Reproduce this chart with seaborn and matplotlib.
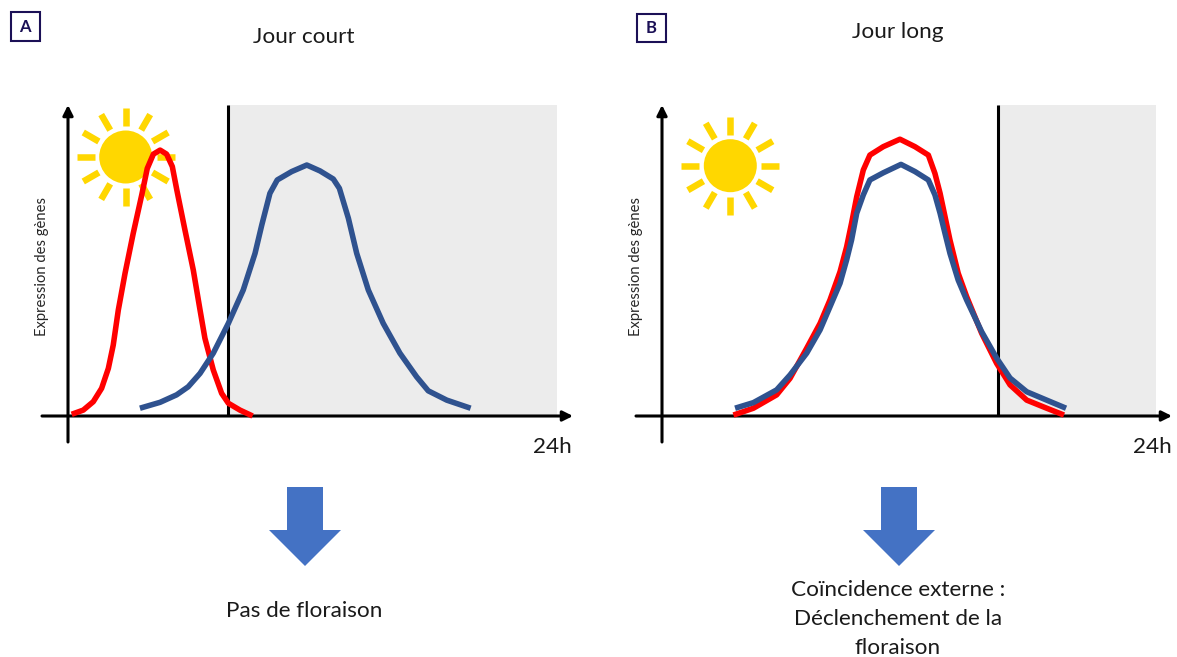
import numpy as np
import pandas as pd
import seaborn as sns
import matplotlib
matplotlib.use("Agg")
import matplotlib.pyplot as plt
from matplotlib.patches import Circle, Polygon, Rectangle

# ---------- data (hours, relative expression) ----------
red_a_h = [0.18, 0.75, 1.24, 1.65, 1.98, 2.22, 2.47, 2.80, 3.20, 3.62, 3.89, 4.19, 4.52, 4.84, 5.12, 5.34, 5.74, 6.15, 6.48, 6.72, 7.13, 7.54, 7.87, 8.44, 9.06]
red_a_y = [0.55, 1.9, 4.6, 8.9, 15.3, 22.8, 34.1, 45.9, 58.7, 71.1, 79.6, 84.2, 85.5, 84.2, 80.2, 72.7, 59.8, 46.9, 34.1, 25.0, 14.8, 7.3, 4.1, 1.9, 0.0]
blue_a_h = [3.53, 4.52, 5.33, 5.90, 6.48, 7.13, 7.87, 8.60, 9.18, 9.51, 9.91, 10.27, 10.98, 11.72, 12.37, 13.02, 13.32, 13.76, 14.17, 14.74, 15.47, 16.29, 17.11, 17.68, 18.59, 19.76]
blue_a_y = [2.5, 4.4, 6.8, 9.4, 13.7, 20.2, 29.8, 40.5, 52.3, 61.4, 71.6, 75.9, 78.6, 80.7, 78.8, 76.2, 73.2, 63.6, 52.3, 40.5, 29.8, 20.2, 12.6, 8.1, 5.1, 2.5]
red_b_h = [3.47, 4.44, 5.57, 6.22, 7.03, 7.68, 8.16, 8.65, 8.97, 9.21, 9.46, 9.78, 10.1, 10.75, 11.56, 12.29, 12.94, 13.26, 13.51, 13.75, 13.99, 14.39, 14.8, 15.53, 16.26, 16.91, 17.72, 18.69, 19.53]
red_b_y = [0.3, 2.5, 6.8, 12.1, 21.8, 29.8, 37.3, 46.4, 54.4, 62.0, 70.5, 79.1, 83.9, 86.6, 89.0, 86.6, 83.9, 78.0, 71.6, 64.1, 56.6, 45.9, 38.4, 26.6, 16.9, 10.0, 5.1, 2.5, 0.3]
blue_b_h = [3.55, 4.44, 5.57, 6.22, 7.03, 7.68, 8.16, 8.65, 8.97, 9.21, 9.46, 9.78, 10.1, 10.75, 11.61, 12.29, 12.94, 13.26, 13.51, 13.75, 13.99, 14.39, 14.8, 15.53, 16.26, 16.91, 17.72, 18.69, 19.63]
blue_b_y = [2.5, 4.3, 8.4, 13.2, 20.2, 27.7, 35.1, 42.7, 50.2, 56.6, 65.2, 71.1, 75.9, 78.2, 80.9, 78.6, 75.9, 71.1, 65.2, 58.7, 52.3, 43.7, 37.3, 27.1, 18.6, 12.2, 7.8, 5.1, 2.5]
day_a = 7.85
day_b = 16.32
titles = ["Jour court", "Jour long"]
ylabel = "Expression des gènes"
end_label = "24h"
result_a = "Pas de floraison"
result_b = "Coïncidence externe :\nDéclenchement de la\nfloraison"

sns.set_theme(style="white")
plt.rcParams["font.family"] = ["Lato", "DejaVu Sans"]

W, H = 1177, 657
fig = plt.figure(figsize=(W / 100, H / 100), dpi=100, facecolor="white")

# overlay in reference pixel space, behind the panels
bg = fig.add_axes([0, 0, 1, 1], zorder=0)
bg.set_xlim(0, W)
bg.set_ylim(H, 0)
bg.axis("off")

SUN = "#FFD700"
ARROW = "#4472C4"
NAVY = "#1B1056"
RED = "#FF0000"
BLUE = "#2F528F"
TEXT = "#1a1a1a"
FS = 16.2


def sun(cx, cy):
    bg.add_patch(Circle((cx, cy), 26.5, color=SUN, lw=0))
    for a in np.deg2rad(np.arange(0, 360, 30)):
        bg.plot([cx + 31 * np.cos(a), cx + 49 * np.cos(a)],
                [cy + 31 * np.sin(a), cy + 49 * np.sin(a)],
                color=SUN, lw=4.7, solid_capstyle="butt")


def down_arrow(cx):
    bg.add_patch(Polygon([(cx - 18, 487), (cx + 18, 487), (cx + 18, 530), (cx + 36, 530),
                          (cx, 566), (cx - 36, 530), (cx - 18, 530)],
                         closed=True, facecolor=ARROW, edgecolor="none"))


def badge(x0, y0, w, h, letter):
    bg.add_patch(Rectangle((x0, y0), w, h, facecolor="white", edgecolor=NAVY, lw=1.5))
    bg.text(x0 + w / 2, y0 + h / 2, letter, color=NAVY, fontsize=12, fontweight="bold",
            ha="center", va="center")


def panel(left, right, red_h, red_y, blue_h, blue_y, day, title, title_px, label_px):
    top, bottom = 105, 416
    ax = fig.add_axes([left / W, 1 - bottom / H, (right - left) / W, (bottom - top) / H], zorder=1)
    ax.patch.set_alpha(0)
    ax.axvspan(day, 24, color="#ECECEC", lw=0, zorder=0)
    ax.vlines(day, 0, 100, color="black", lw=2.2, zorder=1)
    df = pd.concat([
        pd.DataFrame({"heure": red_h, "expr": red_y, "gene": "rouge"}),
        pd.DataFrame({"heure": blue_h, "expr": blue_y, "gene": "bleu"}),
    ])
    sns.lineplot(data=df, x="heure", y="expr", hue="gene", palette={"rouge": RED, "bleu": BLUE},
                 hue_order=["rouge", "bleu"], sort=False, estimator=None, lw=4.0, ax=ax,
                 legend=False, zorder=3, solid_capstyle="butt", solid_joinstyle="round", clip_on=False)
    ax.set_xlim(0, 24)
    ax.set_ylim(0, 100)
    ax.set_xticks([])
    ax.set_yticks([])
    sns.despine(ax=ax, left=True, bottom=True)
    ax.set_xlabel("")
    w, h = right - left, bottom - top
    ax.set_ylabel(ylabel, fontsize=10.6, color="#262626")
    ax.yaxis.set_label_coords((label_px + 8 - left) / w, 0.48)
    ax.set_title(title, fontsize=FS, color=TEXT, x=(title_px[0] - left) / w,
                 y=(bottom - title_px[1] - 1) / h, va="center", ha="center", pad=0)
    arrow = dict(arrowstyle="-|>", lw=2.2, color="black", shrinkA=0, shrinkB=0, mutation_scale=15)
    ax.annotate("", xy=(1 + 16 / w, 0), xytext=(-26 / w, 0),
                xycoords="axes fraction", textcoords="axes fraction", arrowprops=arrow, zorder=2)
    ax.annotate("", xy=(0, 1.0), xytext=(0, -26 / h),
                xycoords="axes fraction", textcoords="axes fraction", arrowprops=arrow, zorder=2)
    return ax


sun(125.7, 157)
sun(730.3, 165.7)
down_arrow(305)
down_arrow(899)
badge(10.5, 12, 29.5, 29, "A")
badge(636.5, 14, 29.5, 28, "B")

panel(68, 557, red_a_h, red_a_y, blue_a_h, blue_a_y, day_a, titles[0], (304, 36), 41)
panel(662, 1156, red_b_h, red_b_y, blue_b_h, blue_b_y, day_b, titles[1], (898, 31), 635)

for x, y in [(552, 447), (1152, 447)]:
    bg.text(x, y, end_label, fontsize=FS, color=TEXT, ha="center", va="center")
bg.text(304, 611, result_a, fontsize=FS, color=TEXT, ha="center", va="center")
bg.text(898, 619, result_b, fontsize=FS, color=TEXT, ha="center", va="center", linespacing=1.55)

fig.savefig("out.png", dpi=100)
